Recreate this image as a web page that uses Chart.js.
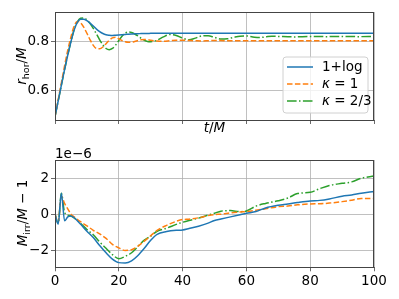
<!DOCTYPE html>
<html lang="en">
<head>
<meta charset="UTF-8">
<title>Horizon radius and irreducible mass</title>
<script src="https://cdn.jsdelivr.net/npm/chart.js"></script>
<style>
  body { margin: 0; background: #fff; }
  canvas { position: absolute; left: 0; }
</style>
</head>
<body>
<canvas id="topChart" width="399" height="150" style="top:0"></canvas>
<canvas id="bottomChart" width="399" height="154" style="top:145px"></canvas>
<script>
// top panel: r_hor / M
const tTop = [0,1,2,3,4,5,6,7,8,9,10,11,12,13,14,15,16,17,18,19,20,21,22,23,24,25,26,27,28,29,30,
  32,34,36,38,40,42,44,46,48,50,52,54,56,58,60,62,64,66,68,70,75,80,85,90,95,100];
const rLog = [0.49,0.555,0.62,0.685,0.745,0.80,0.848,0.88,0.893,0.893,0.887,0.877,0.865,0.852,0.842,0.834,0.829,0.827,0.826,0.827,0.828,0.829,0.830,0.831,0.832,0.833,0.833,0.834,0.834,0.834,0.835,
  0.835,0.835,0.835,0.835,0.835,0.835,0.835,0.835,0.835,0.835,0.835,0.835,0.835,0.835,0.835,0.835,0.835,0.835,0.835,0.835,0.835,0.835,0.835,0.835,0.835,0.835];
const rK1 = [0.49,0.56,0.63,0.70,0.765,0.82,0.865,0.884,0.878,0.86,0.835,0.808,0.785,0.772,0.771,0.778,0.792,0.806,0.816,0.818,0.812,0.805,0.80,0.798,0.798,0.801,0.805,0.808,0.809,0.808,0.806,
  0.803,0.802,0.804,0.806,0.806,0.805,0.804,0.803,0.804,0.805,0.805,0.804,0.804,0.804,0.804,0.804,0.804,0.804,0.804,0.804,0.804,0.804,0.804,0.804,0.804,0.804];
const rK23 = [0.49,0.555,0.62,0.685,0.745,0.80,0.85,0.882,0.897,0.898,0.89,0.875,0.855,0.832,0.808,0.787,0.772,0.767,0.772,0.786,0.805,0.823,0.835,0.84,0.838,0.832,0.824,0.814,0.806,0.801,0.80,
  0.806,0.82,0.83,0.826,0.815,0.808,0.815,0.824,0.825,0.818,0.811,0.812,0.818,0.823,0.824,0.82,0.817,0.82,0.823,0.822,0.82,0.822,0.821,0.822,0.821,0.822];

// bottom panel: M_irr / M - 1, in units of 1e-6
const tBot = [0,1,2,3,4,5,6,8,10,12,14,16,18,20,22,24,26,28,30,32,35,38,40,42,45,48,50,52,55,58,60,63,66,70,73,76,80,83,86,90,93,96,100];
const mLog = [0,-0.55,1.17,-0.37,-0.15,-0.1,-0.2,-0.55,-0.95,-1.3,-1.75,-2.15,-2.5,-2.7,-2.72,-2.6,-2.3,-1.9,-1.45,-1.12,-0.97,-0.9,-0.88,-0.8,-0.67,-0.5,-0.35,-0.27,-0.15,-0.03,0.05,0.15,0.35,0.5,0.57,0.65,0.74,0.77,0.85,1.0,1.07,1.17,1.27];
const mK1 = [0,-0.45,1.0,0.6,0.3,0.0,-0.15,-0.42,-0.65,-0.9,-1.1,-1.35,-1.68,-1.88,-2.02,-1.98,-1.78,-1.5,-1.2,-0.9,-0.62,-0.4,-0.3,-0.28,-0.2,-0.08,-0.02,0.0,0.07,0.12,0.15,0.22,0.3,0.42,0.45,0.52,0.57,0.58,0.62,0.7,0.78,0.88,0.87];
const mK23 = [0,-0.5,1.17,0.1,-0.05,-0.1,-0.2,-0.5,-0.85,-1.15,-1.55,-1.9,-2.25,-2.48,-2.35,-2.15,-1.8,-1.45,-1.22,-0.95,-0.78,-0.57,-0.45,-0.35,-0.22,-0.05,0.05,0.17,0.2,0.14,0.18,0.45,0.6,0.75,0.9,1.15,1.22,1.42,1.6,1.72,1.8,2.0,2.13];

const labels = ['1+log', 'κ = 1', 'κ = 2/3'];
const xTicks = [0, 20, 40, 60, 80, 100];
const topTicks = [0.6, 0.8];
const botTicks = [-2, 0, 2];

const colors = ['#1f77b4', '#ff7f0e', '#2ca02c'];
const dashes = [[], [5.5, 2.4], [9.6, 2.4, 1.5, 2.4]];
const FONT = '"DejaVu Sans", sans-serif';

function pts(t, v) { return t.map((x, i) => ({ x: x, y: v[i] })); }

function makeSets(t, series) {
  return series.map((s, i) => ({
    label: labels[i],
    data: pts(t, s),
    borderColor: colors[i],
    borderWidth: 1.5,
    borderDash: dashes[i],
    pointRadius: 0,
    fill: false,
    cubicInterpolationMode: 'monotone'
  }));
}

function minusFmt(v) {
  return v < 0 ? '\u2212' + Math.abs(v) : String(v);
}

// text made of pieces: [text, font, dy]
function drawPieces(ctx, pieces, cx, cy, rotate) {
  ctx.save();
  ctx.translate(cx, cy);
  if (rotate) ctx.rotate(-Math.PI / 2);
  ctx.textBaseline = 'alphabetic';
  ctx.fillStyle = '#000';
  let total = 0;
  pieces.forEach(p => { ctx.font = p[1]; total += ctx.measureText(p[0]).width; });
  let x = -total / 2;
  pieces.forEach(p => {
    ctx.font = p[1];
    ctx.fillText(p[0], x, 5 + (p[2] || 0));
    x += ctx.measureText(p[0]).width;
  });
  ctx.restore();
}

const frame = {
  id: 'frame',
  afterDraw(chart) {
    const a = chart.chartArea;
    const ctx = chart.ctx;
    ctx.save();
    ctx.strokeStyle = '#444';
    ctx.lineWidth = 1;
    ctx.strokeRect(Math.round(a.left) + 0.5, Math.round(a.top) + 0.5, Math.round(a.right - a.left) - 1, Math.round(a.bottom - a.top));
    ctx.restore();
  }
};

const topExtras = {
  id: 'topExtras',
  afterDraw(chart) {
    const ctx = chart.ctx;
    const it = 'italic 13.5px ' + FONT, up = '13.5px ' + FONT, sub = '9.5px ' + FONT;
    drawPieces(ctx, [['r', it], ['hor', sub, 3], ['/', up], ['M', it]], 21, 66, true);
    drawPieces(ctx, [['t', it], ['/', up], ['M', it]], 214.5, 127, false);

    // legend
    ctx.save();
    const bx = 283, by = 57, bw = 85, bh = 56, r = 3;
    ctx.beginPath();
    ctx.moveTo(bx + r, by);
    ctx.arcTo(bx + bw, by, bx + bw, by + bh, r);
    ctx.arcTo(bx + bw, by + bh, bx, by + bh, r);
    ctx.arcTo(bx, by + bh, bx, by, r);
    ctx.arcTo(bx, by, bx + bw, by, r);
    ctx.closePath();
    ctx.fillStyle = 'rgba(255,255,255,0.8)';
    ctx.fill();
    ctx.strokeStyle = '#d0d0d0';
    ctx.lineWidth = 1;
    ctx.stroke();
    const rows = [67, 84, 101];
    rows.forEach((y, i) => {
      ctx.beginPath();
      ctx.setLineDash(dashes[i]);
      ctx.strokeStyle = colors[i];
      ctx.lineWidth = 1.5;
      ctx.moveTo(287, y);
      ctx.lineTo(313, y);
      ctx.stroke();
    });
    ctx.setLineDash([]);
    ctx.fillStyle = '#000';
    ctx.textBaseline = 'middle';
    ctx.font = up;
    ctx.fillText(labels[0], 322, rows[0]);
    [1, 2].forEach(i => {
      ctx.font = it;
      ctx.fillText('κ', 322, rows[i]);
      const w = ctx.measureText('κ').width;
      ctx.font = up;
      ctx.fillText(labels[i].slice(1), 322 + w, rows[i]);
    });
    ctx.restore();
  }
};

const botExtras = {
  id: 'botExtras',
  afterDraw(chart) {
    const ctx = chart.ctx;
    const it = 'italic 13.5px ' + FONT, up = '13.5px ' + FONT, sub = '9.5px ' + FONT;
    drawPieces(ctx, [['M', it], ['irr', sub, 3], ['/', up], ['M', it], [' \u2212 1', up]], 22, 68, true);
    ctx.save();
    ctx.font = up;
    ctx.fillStyle = '#000';
    ctx.textBaseline = 'alphabetic';
    ctx.fillText('1e\u22126', 55, 13);
    ctx.restore();
  }
};

function axisCommon(ticksArr) {
  return {
    type: 'linear',
    afterBuildTicks: s => { s.ticks = ticksArr.map(v => ({ value: v })); },
    grid: { color: '#b0b0b0', lineWidth: 0.8, tickLength: 4, tickColor: '#444' },
    border: { display: true, color: '#444', width: 1 },
    ticks: { color: '#000', font: { family: FONT, size: 13.5 }, padding: 2, callback: minusFmt }
  };
}

const topX = axisCommon(xTicks);
Object.assign(topX, { min: 0, max: 100, afterFit: s => { s.height = 30; } });
topX.ticks = Object.assign({}, topX.ticks, { display: false });
const topY = axisCommon(topTicks);
Object.assign(topY, { min: 0.476, max: 0.923, afterFit: s => { s.width = 55; } });

new Chart(document.getElementById('topChart'), {
  type: 'line',
  data: { datasets: makeSets(tTop, [rLog, rK1, rK23]) },
  options: {
    responsive: false,
    animation: false,
    devicePixelRatio: 1,
    layout: { padding: { top: 12, right: 25, left: 0, bottom: 0 } },
    plugins: { legend: { display: false }, tooltip: { enabled: false } },
    scales: { x: topX, y: topY }
  },
  plugins: [frame, topExtras]
});

const botX = axisCommon(xTicks);
Object.assign(botX, { min: 0, max: 100, afterFit: s => { s.height = 154 - 122.3; } });
const botY = axisCommon(botTicks);
Object.assign(botY, { min: -2.96, max: 3.02, afterFit: s => { s.width = 55; } });

new Chart(document.getElementById('bottomChart'), {
  type: 'line',
  data: { datasets: makeSets(tBot, [mLog, mK1, mK23]) },
  options: {
    responsive: false,
    animation: false,
    devicePixelRatio: 1,
    layout: { padding: { top: 15, right: 25, left: 0, bottom: 0 } },
    plugins: { legend: { display: false }, tooltip: { enabled: false } },
    scales: { x: botX, y: botY }
  },
  plugins: [frame, botExtras]
});
</script>
</body>
</html>
